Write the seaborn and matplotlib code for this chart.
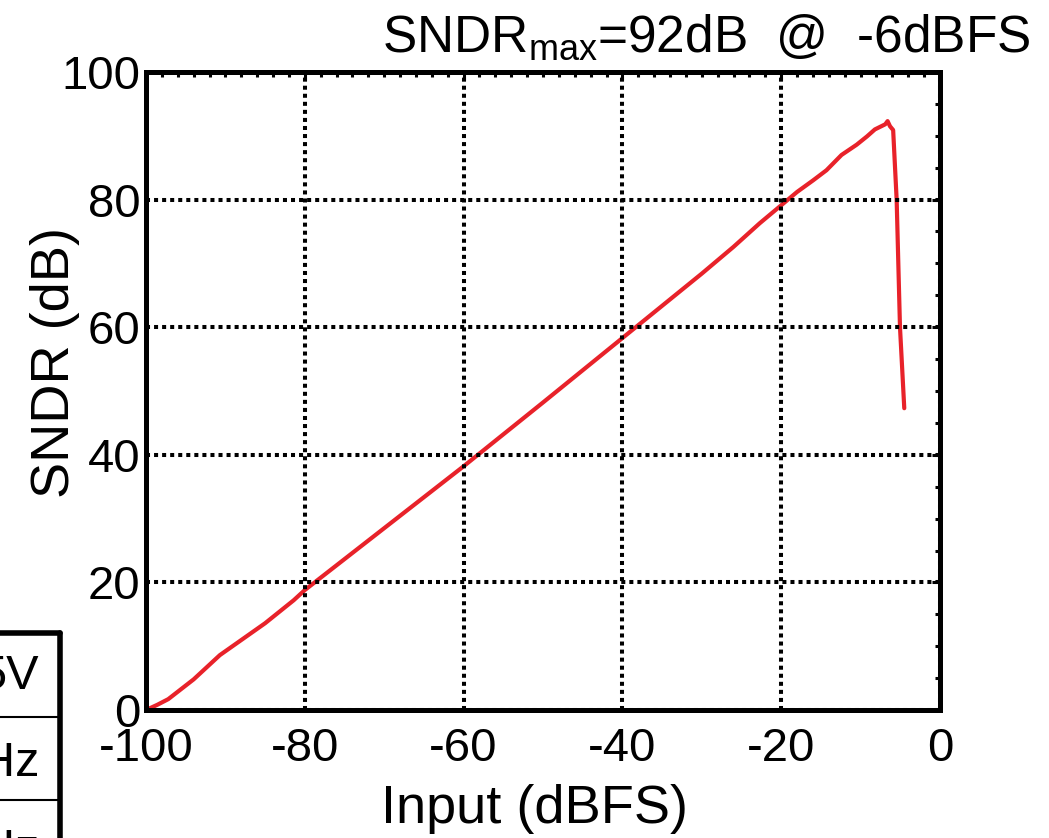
import numpy as np
import pandas as pd
import seaborn as sns
import matplotlib
matplotlib.use("Agg")
import matplotlib.pyplot as plt
from matplotlib.lines import Line2D
from matplotlib.ticker import MultipleLocator

input_dbfs = [-100, -98.6, -97.2, -94, -90.7, -85, -81.4, -80, -70, -60, -50, -40, -30,
              -26, -22.7, -20.2, -18, -16, -14.3, -12.4, -10.5, -9.2, -8.2, -6.9,
              -6.6, -6.3, -5.9, -5.67, -5.46, -5.04, -4.5]
sndr_db = [0, 0.8, 1.7, 4.8, 8.6, 13.6, 17.2, 18.8, 28.5, 38.2, 48.2, 58.3, 68.4,
           72.6, 76.3, 78.9, 81.2, 83.0, 84.6, 87.0, 88.6, 89.9, 91.0, 91.8,
           92.3, 91.5, 90.9, 85.2, 80.0, 60.0, 47.3]
x_ticks = [-100, -80, -60, -40, -20, 0]
y_ticks = [0, 20, 40, 60, 80, 100]
table_cells = ["5V", "Hz", "Hz"]

sns.set_style("white")
plt.rcParams['font.family'] = ['Liberation Sans', 'DejaVu Sans']
plt.rcParams['mathtext.fontset'] = 'custom'
plt.rcParams['mathtext.rm'] = 'Liberation Sans'
plt.rcParams['mathtext.it'] = 'Liberation Sans'
plt.rcParams['text.color'] = 'black'
plt.rcParams['axes.labelcolor'] = 'black'

df = pd.DataFrame({"Input (dBFS)": input_dbfs, "SNDR (dB)": sndr_db})

fig = plt.figure(figsize=(10.49, 8.38), dpi=100)
W, H = 1049, 838
ax = fig.add_axes([146 / W, 1 - 710 / H, (940 - 146) / W, (710 - 72) / H])

sns.lineplot(data=df, x="Input (dBFS)", y="SNDR (dB)", ax=ax, color="#e8222a",
             linewidth=3, sort=False, estimator=None)

ax.set_xlim(-100, 0)
ax.set_ylim(0, 100)
ax.set_xticks(x_ticks)
ax.set_yticks(y_ticks)
ax.set_xticklabels([str(t) for t in x_ticks])
ax.set_yticklabels([str(t) for t in y_ticks])
ax.xaxis.set_minor_locator(MultipleLocator(2))
ax.yaxis.set_minor_locator(MultipleLocator(5))
ax.grid(True, which='major', color='black', linestyle=(0, (1, 1)), linewidth=2.9)
for gl in ax.get_xgridlines() + ax.get_ygridlines():
    gl.set_dash_capstyle('butt')
ax.set_axisbelow(False)
for s in ax.spines.values():
    s.set_visible(True)
    s.set_color('black')
    s.set_linewidth(3.6)
ax.tick_params(which='both', direction='in', top=True, right=True, colors='black',
               labelcolor='black', labelsize=34, width=2.2)
ax.tick_params(which='major', length=6)
ax.tick_params(axis='x', which='major', pad=12)
ax.tick_params(axis='y', which='major', pad=4)
ax.tick_params(which='minor', length=3.5)
ax.set_xlabel("Input (dBFS)", fontsize=39)
ax.set_ylabel("SNDR (dB)", fontsize=39)
ax.xaxis.set_label_coords(0.489, -0.116)
ax.yaxis.set_label_coords(-0.083, 0.545)

fig.text(1030 / W, 1 - 52 / H, r'SNDR$_{\mathrm{max}}$=92dB  @  -6dBFS',
         ha='right', va='baseline', fontsize=37)

# clipped table fragment at lower left
fig.add_artist(Line2D([0, 60 / W], [1 - 633 / H] * 2, color='black', lw=4))
fig.add_artist(Line2D([60 / W] * 2, [1 - 633 / H, 0], color='black', lw=4))
for yy in (717, 800):
    fig.add_artist(Line2D([0, 60 / W], [1 - yy / H] * 2, color='black', lw=1.5))
for txt, yy in zip(table_cells, (676, 763, 850)):
    fig.text(39 / W, 1 - yy / H, txt, ha='right', va='center', fontsize=35)

fig.savefig("out.png", dpi=100)
